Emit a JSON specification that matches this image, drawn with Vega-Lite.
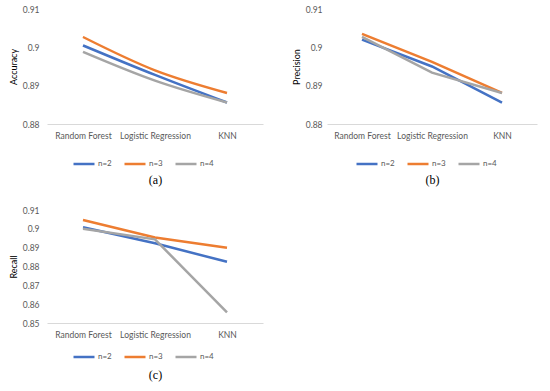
{
  "$schema": "https://vega.github.io/schema/vega-lite/v6.json",
  "padding": {"left": 9, "top": 5, "right": 5, "bottom": 5},
  "background": "white",
  "data": {"values": [
    {"metric": "Accuracy", "model": "Random Forest", "n": "n=2", "value": 0.9005},
    {"metric": "Accuracy", "model": "Random Forest", "n": "n=3", "value": 0.9027},
    {"metric": "Accuracy", "model": "Random Forest", "n": "n=4", "value": 0.8988},
    {"metric": "Accuracy", "model": "Logistic Regression", "n": "n=2", "value": 0.8928},
    {"metric": "Accuracy", "model": "Logistic Regression", "n": "n=3", "value": 0.894},
    {"metric": "Accuracy", "model": "Logistic Regression", "n": "n=4", "value": 0.8913},
    {"metric": "Accuracy", "model": "KNN", "n": "n=2", "value": 0.8856},
    {"metric": "Accuracy", "model": "KNN", "n": "n=3", "value": 0.8881},
    {"metric": "Accuracy", "model": "KNN", "n": "n=4", "value": 0.8856},
    {"metric": "Precision", "model": "Random Forest", "n": "n=2", "value": 0.902},
    {"metric": "Precision", "model": "Random Forest", "n": "n=3", "value": 0.9035},
    {"metric": "Precision", "model": "Random Forest", "n": "n=4", "value": 0.9027},
    {"metric": "Precision", "model": "Logistic Regression", "n": "n=2", "value": 0.895},
    {"metric": "Precision", "model": "Logistic Regression", "n": "n=3", "value": 0.8962},
    {"metric": "Precision", "model": "Logistic Regression", "n": "n=4", "value": 0.8934},
    {"metric": "Precision", "model": "KNN", "n": "n=2", "value": 0.8856},
    {"metric": "Precision", "model": "KNN", "n": "n=3", "value": 0.8881},
    {"metric": "Precision", "model": "KNN", "n": "n=4", "value": 0.8881},
    {"metric": "Recall", "model": "Random Forest", "n": "n=2", "value": 0.9008},
    {"metric": "Recall", "model": "Random Forest", "n": "n=3", "value": 0.9047},
    {"metric": "Recall", "model": "Random Forest", "n": "n=4", "value": 0.9001},
    {"metric": "Recall", "model": "Logistic Regression", "n": "n=2", "value": 0.8923},
    {"metric": "Recall", "model": "Logistic Regression", "n": "n=3", "value": 0.8954},
    {"metric": "Recall", "model": "Logistic Regression", "n": "n=4", "value": 0.8944},
    {"metric": "Recall", "model": "KNN", "n": "n=2", "value": 0.8825},
    {"metric": "Recall", "model": "KNN", "n": "n=3", "value": 0.89},
    {"metric": "Recall", "model": "KNN", "n": "n=4", "value": 0.8556}
  ]},
  "config": {
    "view": {"stroke": null},
    "font": "Lato",
    "axis": {"grid": false, "ticks": false, "labelFont": "Lato", "labelFontSize": 8.5, "labelColor": "#595959"},
    "axisX": {"domainColor": "#D9D9D9", "labelAngle": 0, "labelPadding": 7, "titleFont": "Liberation Serif", "titleFontSize": 12, "titleFontWeight": "normal", "titleColor": "#000000"},
    "axisY": {"domain": false, "labelPadding": 8, "titleFont": "Lato", "titleFontSize": 9, "titleFontWeight": "normal", "titleColor": "#000000", "titlePadding": 4, "format": "~g"},
    "legend": {"orient": "none", "direction": "horizontal", "symbolType": "stroke", "symbolSize": 441, "symbolStrokeWidth": 2.5, "labelFont": "Lato", "labelFontSize": 8, "labelColor": "#595959", "labelOffset": 2, "columnPadding": 7},
    "line": {"strokeWidth": 2.5}
  },
  "resolve": {"scale": {"color": "independent"}, "legend": {"color": "independent"}},
  "spacing": 20,
  "vconcat": [
    {
      "spacing": 29,
      "resolve": {"scale": {"color": "independent"}, "legend": {"color": "independent"}},
      "hconcat": [
        {
          "width": 216, "height": 115,
          "transform": [{"filter": "datum.metric === 'Accuracy'"}],
          "mark": {"type": "line", "interpolate": "monotone"},
          "encoding": {
            "x": {"field": "model", "type": "nominal", "sort": ["Random Forest", "Logistic Regression", "KNN"], "axis": {"title": "(a)", "titlePadding": 35}},
            "y": {"field": "value", "type": "quantitative", "scale": {"domain": [0.88, 0.91]}, "axis": {"title": "Accuracy", "values": [0.88, 0.89, 0.9, 0.91]}},
            "color": {"field": "n", "type": "nominal", "scale": {"domain": ["n=2", "n=3", "n=4"], "range": ["#4472C4", "#ED7D31", "#A5A5A5"]}, "legend": {"title": null, "legendX": 25, "legendY": 143}}
          }
        },
        {
          "width": 210, "height": 115,
          "transform": [{"filter": "datum.metric === 'Precision'"}],
          "mark": {"type": "line"},
          "encoding": {
            "x": {"field": "model", "type": "nominal", "sort": ["Random Forest", "Logistic Regression", "KNN"], "axis": {"title": "(b)", "titlePadding": 35}},
            "y": {"field": "value", "type": "quantitative", "scale": {"domain": [0.88, 0.91]}, "axis": {"title": "Precision", "values": [0.88, 0.89, 0.9, 0.91], "labelPadding": 5}},
            "color": {"field": "n", "type": "nominal", "scale": {"domain": ["n=2", "n=3", "n=4"], "range": ["#4472C4", "#ED7D31", "#A5A5A5"]}, "legend": {"title": null, "legendX": 28, "legendY": 143}}
          }
        }
      ]
    },
    {
      "width": 216, "height": 113,
      "transform": [{"filter": "datum.metric === 'Recall'"}],
      "mark": {"type": "line"},
      "encoding": {
        "x": {"field": "model", "type": "nominal", "sort": ["Random Forest", "Logistic Regression", "KNN"], "axis": {"title": "(c)", "titlePadding": 31}},
        "y": {"field": "value", "type": "quantitative", "scale": {"domain": [0.85, 0.91]}, "axis": {"title": "Recall", "values": [0.85, 0.86, 0.87, 0.88, 0.89, 0.9, 0.91]}},
        "color": {"field": "n", "type": "nominal", "scale": {"domain": ["n=2", "n=3", "n=4"], "range": ["#4472C4", "#ED7D31", "#A5A5A5"]}, "legend": {"title": null, "legendX": 25, "legendY": 135}}
      }
    }
  ]
}
